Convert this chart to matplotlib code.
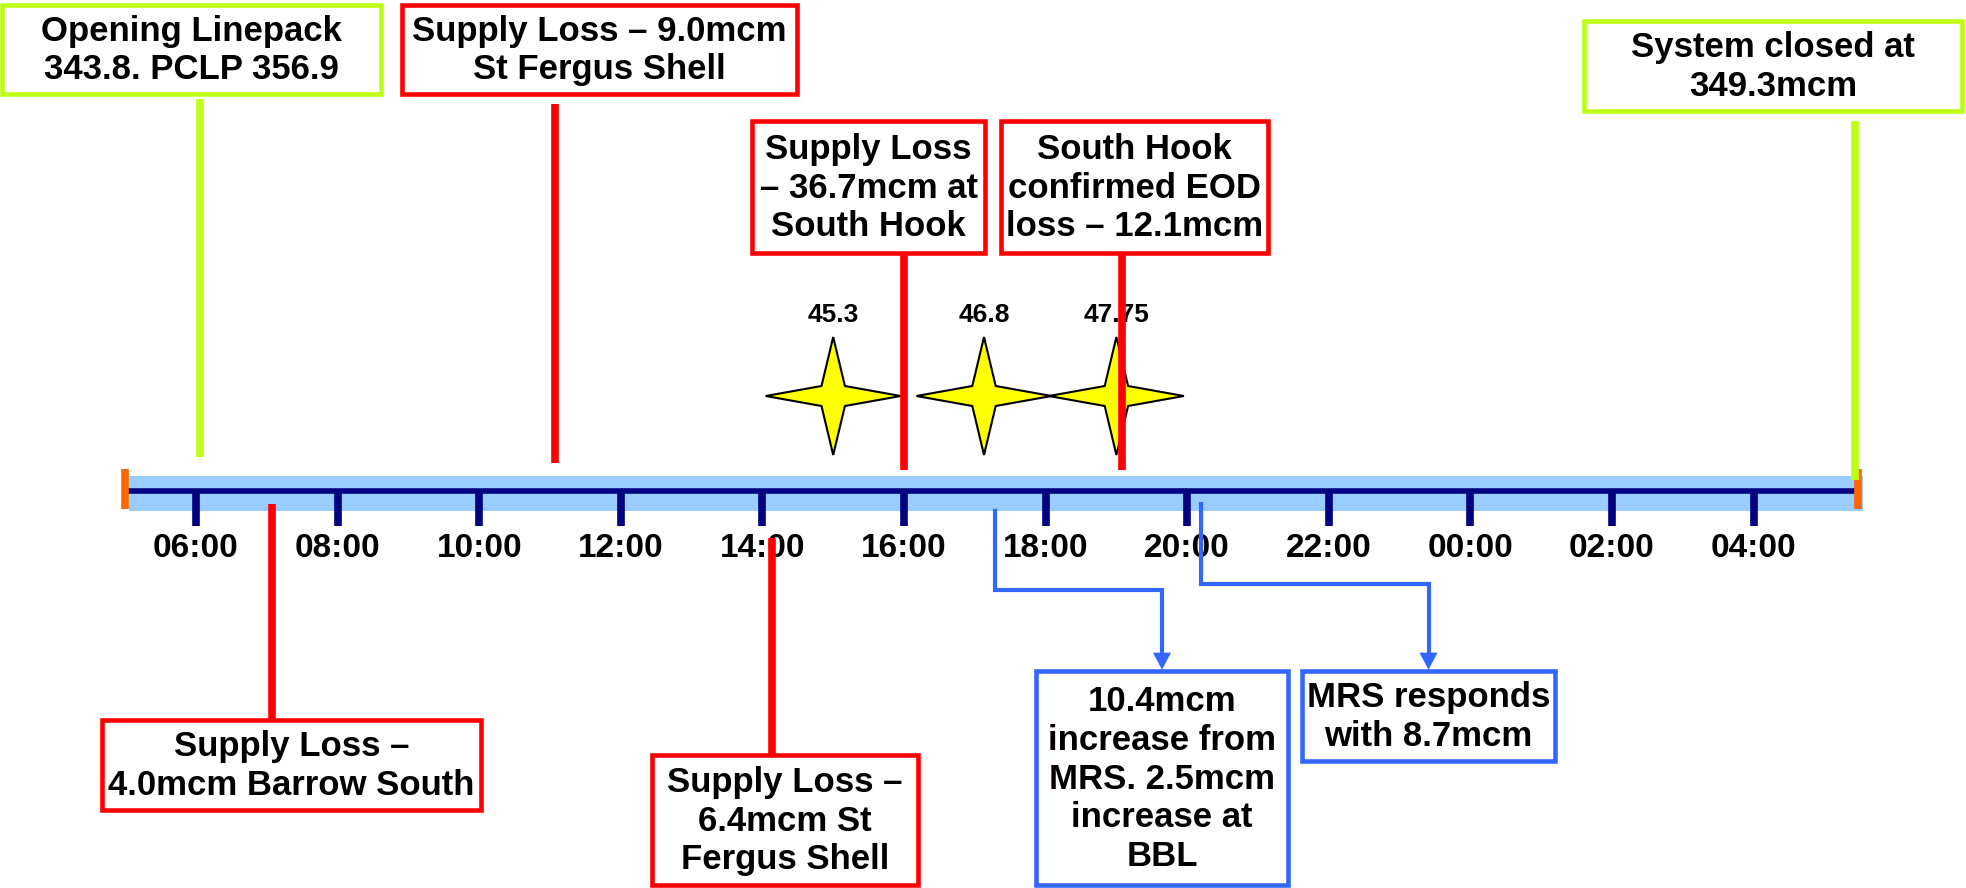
import matplotlib.pyplot as plt
from matplotlib.patches import Rectangle, Polygon

plt.rcParams['font.family'] = ['Liberation Sans', 'DejaVu Sans']
plt.rcParams['font.weight'] = 'bold'

# gas day timeline (hours, 24 = 00:00 next day)
day_start = 5.0
day_end = 29.5
tick_hours = [6, 8, 10, 12, 14, 16, 18, 20, 22, 24, 26, 28]
tick_labels = ['06:00', '08:00', '10:00', '12:00', '14:00', '16:00',
               '18:00', '20:00', '22:00', '00:00', '02:00', '04:00']

# events along the day
event_text = [
    'Opening Linepack\n343.8. PCLP 356.9',
    'Supply Loss \u2013 9.0mcm\nSt Fergus Shell',
    'Supply Loss\n\u2013 36.7mcm at\nSouth Hook',
    'South Hook\nconfirmed EOD\nloss \u2013 12.1mcm',
    'System closed at\n349.3mcm',
    'Supply Loss \u2013\n4.0mcm Barrow South',
    'Supply Loss \u2013\n6.4mcm St\nFergus Shell',
    '10.4mcm\nincrease from\nMRS. 2.5mcm\nincrease at\nBBL',
    'MRS responds\nwith 8.7mcm',
]
event_hour = [6.05, 11.07, 16.0, 19.08, 29.43, 7.07, 14.14, 17.28, 20.2]
event_kind = ['info', 'loss', 'loss', 'loss', 'info', 'loss', 'loss', 'mrs', 'mrs']

# star markers (linepack readings)
star_hour = [15.0, 17.13, 19.0]
star_value = ['45.3', '46.8', '47.75']

colors = {'info': '#BDFF14', 'loss': '#FF0000', 'mrs': '#3366FF'}

# layout in pixels: box (x0, x1, y0, y1) and connector (y_from, y_to)
box_px = [
    (2, 381, 5, 94),
    (402, 797, 5, 94),
    (752, 985, 121, 253),
    (1001, 1268, 121, 253),
    (1584, 1962, 21, 111),
    (102, 481, 720, 810),
    (652, 918, 755, 885),
    (1036, 1288, 671, 885),
    (1302, 1555, 671, 761),
]
line_px = [(99, 457), (104, 463), (255, 470), (255, 470), (121, 480),
           (504, 720), (538, 755), (511, 590), (504, 584)]

W, H = 1966, 888
px_per_hour = 70.8
h0 = 6 - 196 / px_per_hour
h1 = h0 + W / px_per_hour


def px_to_h(px):
    return h0 + px / px_per_hour


fig = plt.figure(figsize=(W / 100, H / 100), dpi=100)
ax = fig.add_axes([0, 0, 1, 1])
ax.set_xlim(h0, h1)
ax.set_ylim(H, 0)
ax.axis('off')

# timeline band
ax.add_patch(Rectangle((day_start + 0.05, 476), day_end - day_start, 35,
                       facecolor='#99CCFF', edgecolor='none', zorder=1))
ax.plot([day_start, day_end + 0.02], [491, 491], color='#000080', lw=4,
        solid_capstyle='butt', zorder=2)
for h in [day_start, day_end - 0.03]:
    ax.plot([h, h], [469, 509], color='#FF6600', lw=5.5, solid_capstyle='butt', zorder=2)
for h, lab in zip(tick_hours, tick_labels):
    ax.plot([h, h], [491, 526], color='#000080', lw=5.5, solid_capstyle='butt', zorder=2)
    ax.text(h, 548, lab, ha='center', va='center', fontsize=24, zorder=3)

# stars
sx, sy = 67.5 / px_per_hour, 59
ix, iy = 11.7 / px_per_hour, 10
for h, v in zip(star_hour, star_value):
    cy = 396
    pts = [(h, cy - sy), (h + ix, cy - iy), (h + sx, cy), (h + ix, cy + iy),
           (h, cy + sy), (h - ix, cy + iy), (h - sx, cy), (h - ix, cy - iy)]
    ax.add_patch(Polygon(pts, closed=True, facecolor='#FFFF00', edgecolor='black',
                         lw=1.5, zorder=4))
    ax.text(h, 315, v, ha='center', va='center', fontsize=19, zorder=5)

# event boxes and connectors
for txt, h, kind, (x0, x1, y0, y1), (ya, yb) in zip(event_text, event_hour, event_kind,
                                                    box_px, line_px):
    c = colors[kind]
    ax.add_patch(Rectangle((px_to_h(x0), y0), (x1 - x0) / px_per_hour, y1 - y0,
                           facecolor='white', edgecolor=c, lw=3.3, zorder=6))
    ax.text(px_to_h((x0 + x1) / 2), (y0 + y1) / 2 + 1, txt, ha='center', va='center',
            fontsize=25, linespacing=1.22, zorder=7)
    if kind == 'mrs':
        bx = px_to_h((x0 + x1) / 2)
        tip = y0 - 2
        ax.plot([h, h, bx, bx], [ya, yb, yb, tip - 15], color=c, lw=3,
                solid_joinstyle='miter', zorder=8)
        hw = 8.5 / px_per_hour
        ax.add_patch(Polygon([(bx - hw, tip - 16), (bx + hw, tip - 16), (bx, tip)],
                             closed=True, facecolor=c, edgecolor=c, lw=0.5, zorder=8))
    else:
        ax.plot([h, h], [ya, yb], color=c, lw=5.5, solid_capstyle='butt', zorder=8)

fig.savefig('out.png', dpi=100, facecolor='white')
